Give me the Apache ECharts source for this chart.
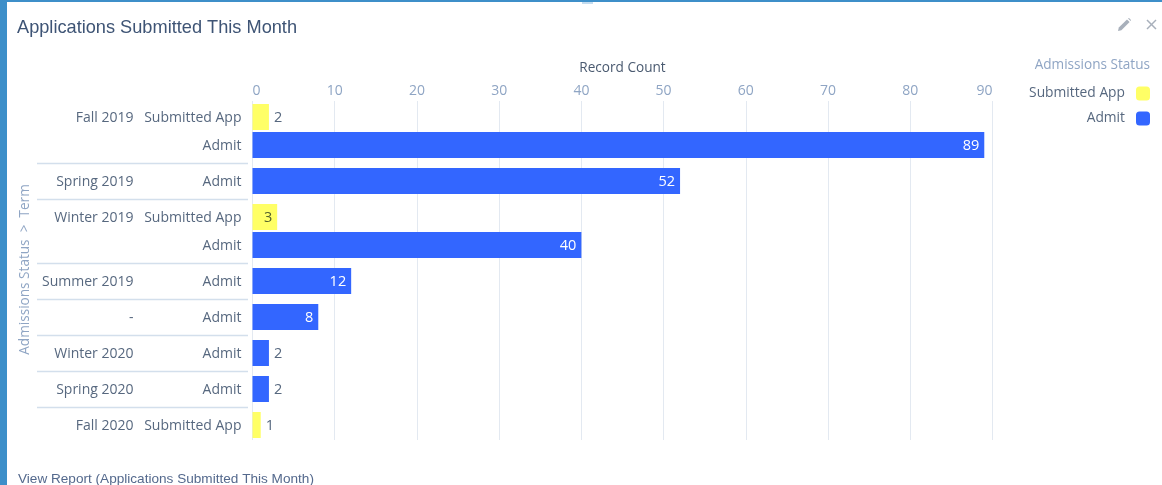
<!DOCTYPE html>
<html>
<head>
<meta charset="utf-8">
<style>
html, body { margin: 0; padding: 0; background: #fff; }
#chart { width: 1162px; height: 485px; }
</style>
<script src="https://cdn.jsdelivr.net/npm/echarts@6/dist/echarts.min.js"></script>
</head>
<body>
<div id="chart"></div>
<script>
// One entry per bar, top to bottom
const rowTerms = ['Fall 2019', 'Fall 2019', 'Spring 2019', 'Winter 2019', 'Winter 2019',
  'Summer 2019', '-', 'Winter 2020', 'Spring 2020', 'Fall 2020'];
const rowStatuses = ['Submitted App', 'Admit', 'Admit', 'Submitted App', 'Admit',
  'Admit', 'Admit', 'Admit', 'Admit', 'Submitted App'];
const rowCounts = [2, 89, 52, 3, 40, 12, 8, 2, 2, 1];
const statusNames = ['Submitted App', 'Admit'];
const statusColors = ['#ffff66', '#3366ff'];
const tickValues = [0, 90];

const labelFont = '"Open Sans", sans-serif';
const textColor = '#57687f';
const mutedColor = '#8fa5c4';

// Rows are collected into one small grid per term so the gaps between terms stay wider
const groups = [];
rowTerms.forEach((term, i) => {
  const last = groups[groups.length - 1];
  if (last && last.term === term) last.rows.push(i);
  else groups.push({ term, rows: [i] });
});

const plotLeft = 252.5, plotWidth = 740, plotTop = 99;
const rowStep = 28, groupPad = 4;

const grid = [{ left: plotLeft, width: plotWidth, top: 101, height: 339 }];
const xAxis = [{
  gridIndex: 0, type: 'value', position: 'top',
  min: tickValues[0], max: tickValues[1], interval: 10,
  name: 'Record Count', nameLocation: 'center', nameGap: 26,
  nameTextStyle: { color: '#4a5a70', fontFamily: labelFont, fontSize: 13.6 },
  axisLine: { show: false }, axisTick: { show: false },
  axisLabel: { color: mutedColor, fontFamily: labelFont, fontSize: 14, margin: 3,
    alignMinLabel: 'left', alignMaxLabel: 'right' },
  splitLine: { show: true, lineStyle: { color: '#e3e9f1', width: 1 } }
}];
const yAxis = [{ gridIndex: 0, type: 'category', data: [''], show: false }];
const series = [];
const separators = [];

let cursor = plotTop;
groups.forEach((group, g) => {
  const height = group.rows.length * rowStep + groupPad * 2;
  const gi = grid.length;
  grid.push({ left: plotLeft, width: plotWidth, top: cursor + groupPad, height: height - groupPad * 2 });
  xAxis.push({ gridIndex: gi, type: 'value', min: tickValues[0], max: tickValues[1], show: false });
  const plainAxis = { axisLine: { show: false }, axisTick: { show: false }, splitLine: { show: false } };
  // A short line box hung from the band centre drops the text about a pixel
  const rowLabel = { color: textColor, fontFamily: labelFont, fontSize: 14, margin: 11,
    verticalAlign: 'top', lineHeight: 2 };
  yAxis.push({
    gridIndex: gi, type: 'category', inverse: true,
    data: group.rows.map(i => rowStatuses[i]), ...plainAxis, axisLabel: rowLabel
  });
  yAxis.push({
    gridIndex: gi, type: 'category', inverse: true, position: 'left', offset: 108,
    data: group.rows.map((i, k) => (k === 0 ? rowTerms[i] : '')), ...plainAxis, axisLabel: rowLabel
  });
  const yIndex = yAxis.length - 2;
  statusNames.forEach((status, s) => {
    series.push({
      type: 'bar', name: status, xAxisIndex: gi, yAxisIndex: yIndex,
      stack: 'term' + g, barWidth: 26, itemStyle: { color: statusColors[s] },
      data: group.rows.map(i => {
        if (rowStatuses[i] !== status) return null;
        const v = rowCounts[i];
        const inside = v >= 3;
        return {
          value: v,
          label: {
            show: true, position: inside ? 'insideRight' : 'right', distance: 5, offset: [0, 1],
            color: !inside ? textColor : (status === 'Admit' ? '#ffffff' : '#54622d'),
            fontFamily: labelFont, fontSize: 14.5
          }
        };
      })
    });
  });
  cursor += height;
  if (g < groups.length - 1) {
    separators.push({
      type: 'line', silent: true,
      shape: { x1: 37, y1: cursor + 0.5, x2: 248, y2: cursor + 0.5 },
      style: { stroke: '#d3dfec', lineWidth: 1.5 }
    });
  }
});

const chart = echarts.init(document.getElementById('chart'), null, { renderer: 'canvas' });
chart.setOption({
  animation: false,
  backgroundColor: '#ffffff',
  title: [
    { text: 'Applications Submitted This Month', left: 12, top: 14,
      textStyle: { color: '#3e5475', fontFamily: '"Liberation Sans", sans-serif', fontSize: 18.2, fontWeight: 'normal' } },
    { text: 'View Report (Applications Submitted This Month)', left: 13, top: 467,
      textStyle: { color: '#54698d', fontFamily: '"Liberation Sans", sans-serif', fontSize: 13.6, fontWeight: 'normal' } },
    { text: 'Admissions Status', right: 7, top: 53,
      textStyle: { color: mutedColor, fontFamily: labelFont, fontSize: 13.6, fontWeight: 'normal' } }
  ],
  legend: {
    orient: 'vertical', right: 7, top: 81.5, align: 'right', icon: 'roundRect',
    itemWidth: 14, itemHeight: 14, itemGap: 11, selectedMode: false,
    data: statusNames,
    textStyle: { color: textColor, fontFamily: labelFont, fontSize: 13.8, padding: [0, 6, 0, 0] }
  },
  grid, xAxis, yAxis, series,
  graphic: [
    // Frame of the surrounding panel
    { type: 'rect', shape: { x: 0, y: 0, width: 7, height: 485 }, style: { fill: '#3d8fc9' } },
    { type: 'rect', shape: { x: 0, y: 0, width: 1162, height: 2 }, style: { fill: '#3d8fc9' } },
    { type: 'rect', shape: { x: 582, y: 2, width: 11, height: 2 }, style: { fill: '#c4dcef' } },
    ...separators,
    { type: 'text', x: 25, y: 269.5, rotation: Math.PI / 2,
      style: { text: 'Admissions Status  >  Term', fill: mutedColor, font: '13.6px "Open Sans", sans-serif',
        align: 'center', verticalAlign: 'middle' } },
    // Edit and close controls
    { type: 'polygon', shape: { points: [[1118, 31], [1118.8, 27.6], [1127, 19.4], [1129.6, 22], [1121.4, 30.2]] },
      style: { fill: '#a8b0bb' } },
    { type: 'polygon', shape: { points: [[1128, 18.4], [1129, 18], [1131, 20], [1130.6, 21]] },
      style: { fill: '#a8b0bb' } },
    { type: 'line', shape: { x1: 1147, y1: 20, x2: 1156, y2: 29 }, style: { stroke: '#a8b0bb', lineWidth: 1.5 } },
    { type: 'line', shape: { x1: 1156, y1: 20, x2: 1147, y2: 29 }, style: { stroke: '#a8b0bb', lineWidth: 1.5 } }
  ]
});
</script>
</body>
</html>
